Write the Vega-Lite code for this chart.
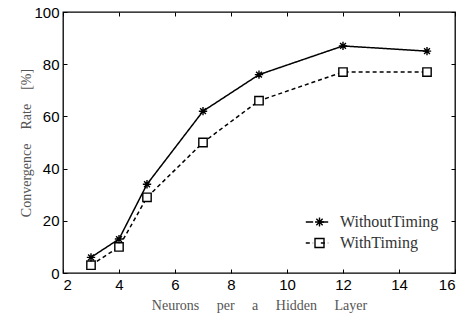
{
  "$schema": "https://vega.github.io/schema/vega-lite/v6.json",
  "width": 392,
  "height": 261,
  "autosize": {"type": "none"},
  "padding": {"left": 63, "top": 12, "right": 21, "bottom": 54},
  "background": "white",
  "config": {
    "view": {"stroke": "black", "strokeWidth": 1.3},
    "axis": {
      "grid": false,
      "domain": false,
      "tickColor": "black",
      "tickWidth": 1,
      "labelFont": "Liberation Sans",
      "labelFontSize": 15,
      "labelColor": "black",
      "titleFont": "Liberation Serif",
      "titleFontWeight": "normal",
      "titleColor": "#555555",
      "titleFontSize": 14
    }
  },
  "data": {
    "values": [
      {"n": 3, "rate": 6, "series": "WithoutTiming"},
      {"n": 4, "rate": 13, "series": "WithoutTiming"},
      {"n": 5, "rate": 34, "series": "WithoutTiming"},
      {"n": 7, "rate": 62, "series": "WithoutTiming"},
      {"n": 9, "rate": 76, "series": "WithoutTiming"},
      {"n": 12, "rate": 87, "series": "WithoutTiming"},
      {"n": 15, "rate": 85, "series": "WithoutTiming"},
      {"n": 3, "rate": 3, "series": "WithTiming"},
      {"n": 4, "rate": 10, "series": "WithTiming"},
      {"n": 5, "rate": 29, "series": "WithTiming"},
      {"n": 7, "rate": 50, "series": "WithTiming"},
      {"n": 9, "rate": 66, "series": "WithTiming"},
      {"n": 12, "rate": 77, "series": "WithTiming"},
      {"n": 15, "rate": 77, "series": "WithTiming"}
    ]
  },
  "resolve": {"axis": {"x": "independent", "y": "independent"}},
  "layer": [
    {
      "mark": {"type": "line", "color": "black", "strokeWidth": 1.5},
      "encoding": {
        "x": {
          "field": "n", "type": "quantitative",
          "scale": {"domain": [2, 16], "nice": false},
          "axis": {"values": [2,4,6,8,10,12,14,16], "tickSize": -4, "labelPadding": 8, "title": "Neurons\u00a0\u00a0\u00a0\u00a0\u00a0per\u00a0\u00a0\u00a0\u00a0\u00a0a\u00a0\u00a0\u00a0\u00a0\u00a0Hidden\u00a0\u00a0\u00a0\u00a0\u00a0Layer", "titlePadding": 6}
        },
        "y": {
          "field": "rate", "type": "quantitative",
          "scale": {"domain": [0, 100], "nice": false},
          "axis": {"values": [0,20,40,60,80,100], "tickSize": -4, "labelPadding": 8, "title": "Convergence\u00a0\u00a0\u00a0\u00a0Rate\u00a0\u00a0\u00a0\u00a0[%]", "titlePadding": 0}
        },
        "strokeDash": {
          "field": "series", "type": "nominal",
          "scale": {"domain": ["WithTiming", "WithoutTiming"], "range": [[4, 3], [1, 0]]},
          "legend": {
            "title": null,
            "orient": "none",
            "legendX": 246,
            "legendY": 202,
            "padding": 0,
            "rowPadding": 5,
            "values": ["WithoutTiming", "WithTiming"],
            "symbolType": "M-1.6,0H-0.55M0.55,0H1.6",
            "symbolSize": 196,
            "symbolStrokeColor": "black",
            "symbolStrokeWidth": 1.5,
            "labelFont": "Liberation Serif",
            "labelFontSize": 16,
            "labelExpr": "''",
            "labelOffset": 10
          }
        }
      }
    },
    {
      "transform": [{"filter": "datum.series === 'WithTiming'"}],
      "mark": {"type": "square", "color": "white", "opacity": 1, "size": 64},
      "encoding": {
        "x": {"field": "n", "type": "quantitative", "axis": null},
        "y": {"field": "rate", "type": "quantitative", "axis": null}
      }
    },
    {
      "mark": {"type": "point", "filled": false, "color": "black", "strokeWidth": 1.4, "opacity": 1},
      "encoding": {
        "x": {"field": "n", "type": "quantitative", "axis": null},
        "y": {"field": "rate", "type": "quantitative", "axis": null},
        "shape": {
          "field": "series", "type": "nominal",
          "scale": {"domain": ["WithoutTiming", "WithTiming"], "range": ["M-1,0L1,0M0,-1L0,1M-0.7,-0.7L0.7,0.7M-0.7,0.7L0.7,-0.7", "square"]},
          "legend": {
            "title": null,
            "orient": "none",
            "legendX": 248.5,
            "legendY": 202,
            "padding": 0,
            "rowPadding": 5,
            "symbolSize": 81,
            "symbolStrokeColor": "black",
            "symbolStrokeWidth": 1.4,
            "symbolOpacity": 1,
            "labelFont": "Liberation Serif",
            "labelFontSize": 16,
            "labelColor": "#333333",
            "labelOffset": 12.5
          }
        },
        "size": {"value": 70}
      }
    },
    {
      "mark": {"type": "point", "opacity": 0},
      "encoding": {
        "x": {"field": "n", "type": "quantitative", "axis": {"orient": "top", "values": [2,4,6,8,10,12,14,16], "tickSize": -4, "labels": false, "title": null}},
        "y": {"field": "rate", "type": "quantitative", "axis": {"orient": "right", "values": [0,20,40,60,80,100], "tickSize": -4, "labels": false, "title": null}}
      }
    }
  ]
}
